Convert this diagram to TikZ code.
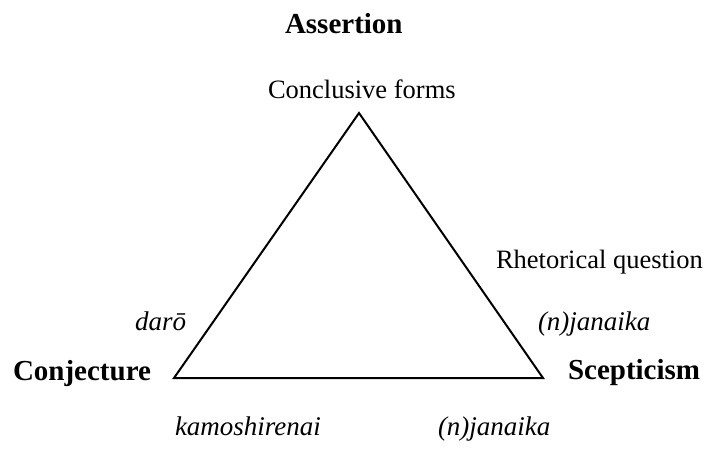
\documentclass[tikz,border=0pt]{standalone}
\usepackage{fontspec}
\setmainfont{Liberation Serif}
\begin{document}
\begin{tikzpicture}[x=1pt,y=-1pt,
  lbl/.style={inner sep=0pt,outer sep=0pt,font=\fontsize{26.5}{30}\selectfont},
  itl/.style={inner sep=0pt,outer sep=0pt,font=\fontsize{27}{30}\selectfont\itshape},
  bld/.style={inner sep=0pt,outer sep=0pt,font=\fontsize{29}{32}\selectfont\bfseries},
  edge/.style={line width=2pt,line join=miter}]
\useasboundingbox (0,0) rectangle (705,448);
\coordinate (top) at (359,113);
\coordinate (bl) at (174,378);
\coordinate (br) at (543,378);
\draw[edge] (top) -- (bl) -- (br) -- cycle;
\node[bld,anchor=base west] (assert) at (285,33) {Assertion};
\node[lbl,anchor=base west] (concl) at (268,98) {Conclusive forms};
\node[lbl,anchor=base west] (rhet) at (496,268) {Rhetorical question};
\node[itl,anchor=base west] (nj1) at (538,330) {(n)janaika};
\node[bld,anchor=base west] (scep) at (568,379) {Scepticism};
\node[bld,anchor=base west] (conj) at (13,380) {Conjecture};
\node[itl,anchor=base west] (daro) at (135,330) {darō};
\node[itl,anchor=base west] (kamo) at (175,435) {kamoshirenai};
\node[itl,anchor=base west] (nj2) at (438,435) {(n)janaika};
\end{tikzpicture}
\end{document}
